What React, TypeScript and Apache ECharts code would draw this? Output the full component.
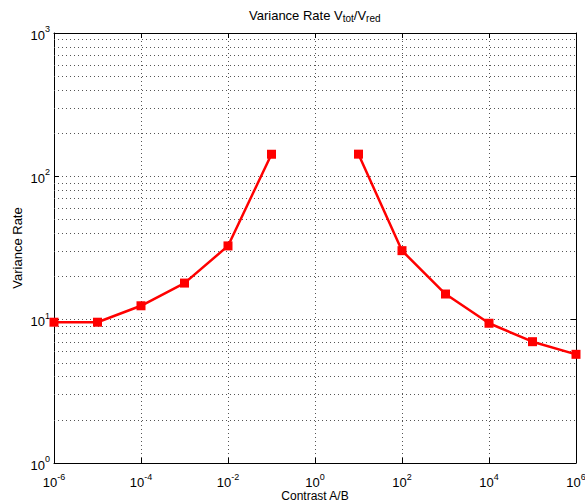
import React, { useEffect, useRef } from "react";
import * as echarts from "echarts";

const contrast = [1e-6, 1e-5, 1e-4, 1e-3, 1e-2, 1e-1, 1, 1e1, 1e2, 1e3, 1e4, 1e5, 1e6];
const varianceRate: (number | null)[] = [9.6, 9.6, 12.5, 18.0, 32.7, 142.6, null, 142.8, 30.3, 15.1, 9.44, 7.02, 5.73];
const yMinorGrid = [2, 3, 4, 5, 6, 7, 8, 9, 20, 30, 40, 50, 60, 70, 80, 90, 200, 300, 400, 500, 600, 700, 800, 900];

const FONT = "Liberation Sans";

const expLabel = (v: number) => {
  const e = Math.round(Math.log10(v));
  return `{b|10}{s|${e}}`;
};

const labelRich = {
  b: { fontSize: 13, lineHeight: 17, verticalAlign: "bottom", fontFamily: FONT, color: "#000" },
  s: { fontSize: 9, lineHeight: 10, verticalAlign: "top", fontFamily: FONT, color: "#000" },
};

export default function App() {
  const ref = useRef<HTMLDivElement>(null);
  useEffect(() => {
    if (!ref.current) return;
    const chart = echarts.init(ref.current, null, { renderer: "svg" });
    const data = contrast.map((x, i) => [x, varianceRate[i] == null ? "-" : varianceRate[i]]);
    const grid = { type: [1, 3], color: "#555", width: 1 };
    chart.setOption({
      animation: false,
      backgroundColor: "#fff",
      title: {
        text: "Variance Rate V{sub|tot}/V{sub|red}",
        left: 244,
        top: 2,
        textStyle: {
          fontSize: 13,
          fontWeight: "normal",
          color: "#000",
          fontFamily: FONT,
          lineHeight: 16,
          rich: {
            sub: { fontSize: 10, lineHeight: 7, verticalAlign: "bottom", fontFamily: FONT, color: "#000" },
          },
        },
      },
      grid: { left: 54, right: 9, top: 33, bottom: 41, containLabel: false, outerBoundsMode: "none" },
      xAxis: [
        {
          type: "log",
          logBase: 10,
          min: 1e-6,
          max: 1e6,
          interval: 2,
          name: "Contrast A/B",
          nameLocation: "middle",
          nameGap: 27,
          nameMoveOverlap: false,
          nameTextStyle: { fontSize: 12, color: "#000", fontFamily: FONT },
          axisLine: { lineStyle: { color: "#000", width: 1 } },
          axisTick: { inside: true, length: 5, lineStyle: { color: "#000" } },
          axisLabel: { formatter: expLabel, rich: labelRich, margin: 9 },
          splitLine: { show: true, lineStyle: grid },
          minorTick: { show: false },
        },
        {
          type: "log",
          logBase: 10,
          position: "top",
          min: 1e-6,
          max: 1e6,
          interval: 2,
          axisLine: { lineStyle: { color: "#000", width: 1 } },
          axisTick: { inside: true, length: 5, lineStyle: { color: "#000" } },
          axisLabel: { show: false },
          splitLine: { show: false },
        },
      ],
      yAxis: [
        {
          type: "log",
          logBase: 10,
          min: 1,
          max: 1000,
          interval: 1,
          name: "Variance Rate",
          nameLocation: "middle",
          nameGap: 30,
          nameMoveOverlap: false,
          nameTextStyle: { fontSize: 13, color: "#000", fontFamily: FONT },
          axisLine: { lineStyle: { color: "#000", width: 1 } },
          axisTick: { inside: true, length: 5, lineStyle: { color: "#000" } },
          axisLabel: { formatter: expLabel, rich: labelRich, margin: 4 },
          splitLine: { show: true, lineStyle: grid },
        },
        {
          type: "log",
          logBase: 10,
          position: "right",
          min: 1,
          max: 1000,
          interval: 1,
          axisLine: { lineStyle: { color: "#000", width: 1 } },
          axisTick: { inside: true, length: 5, lineStyle: { color: "#000" } },
          axisLabel: { show: false },
          splitLine: { show: false },
        },
      ],
      series: [
        {
          type: "line",
          xAxisIndex: 0,
          yAxisIndex: 0,
          data: [],
          silent: true,
          markLine: {
            silent: true,
            symbol: "none",
            label: { show: false },
            lineStyle: { type: [1, 3], color: "#555", width: 1 },
            data: yMinorGrid.map((v) => ({ yAxis: v })),
          },
        },
        {
          type: "line",
          xAxisIndex: 0,
          yAxisIndex: 0,
          data,
          connectNulls: false,
          symbol: "rect",
          symbolSize: 9,
          itemStyle: { color: "#ff0000" },
          lineStyle: { color: "#ff0000", width: 2.5 },
          z: 5,
        },
      ],
    });
    return () => chart.dispose();
  }, []);
  return <div ref={ref} style={{ width: 585, height: 504, position: "absolute", left: 0, top: 0 }} />;
}
